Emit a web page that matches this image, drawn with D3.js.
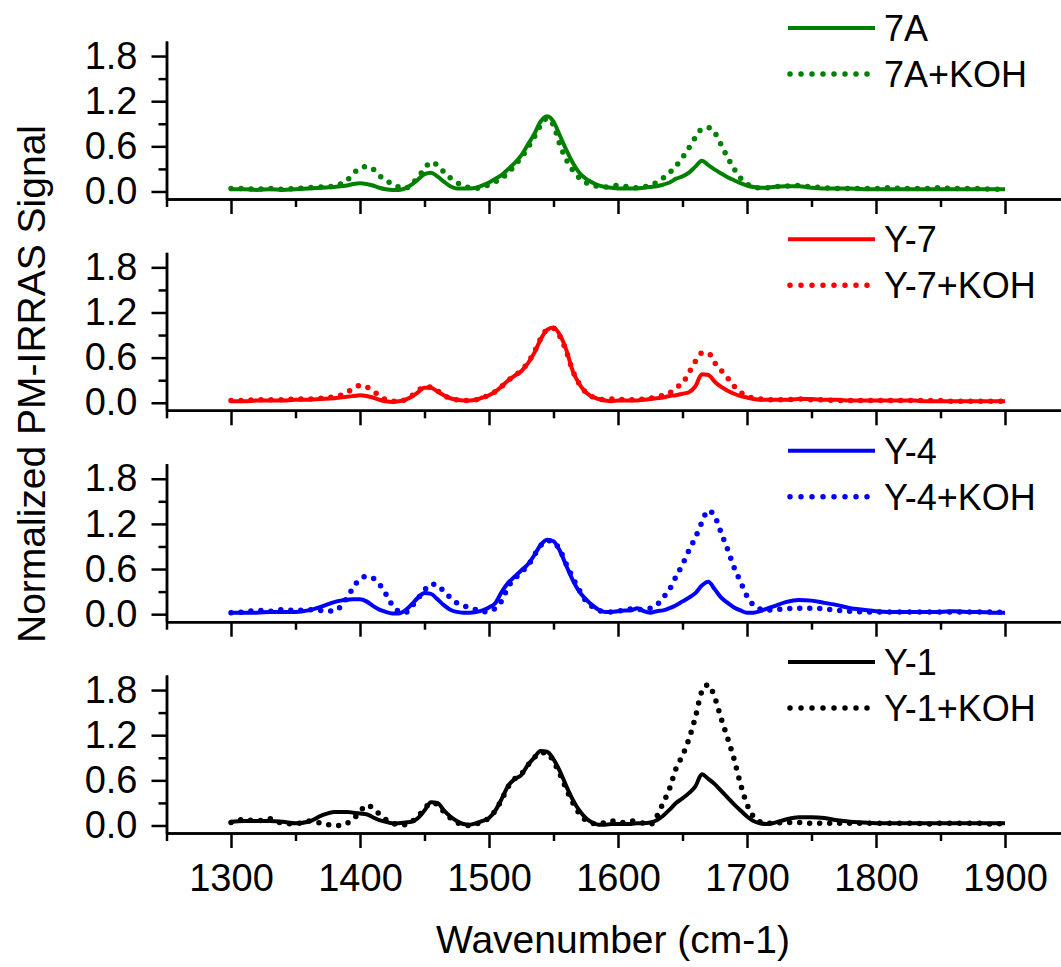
<!DOCTYPE html>
<html>
<head>
<meta charset="utf-8">
<script src="https://cdn.jsdelivr.net/npm/d3@7"></script>
<style>
  body { margin: 0; background: #fff; }
  text { font-family: Arial, "Liberation Sans", sans-serif; fill: #000; }
</style>
</head>
<body>
<svg id="chart" width="1061" height="967"></svg>
<script>
const wn = [1300,1310,1320,1330,1340,1350,1360,1370,1380,
  1385,1390,1395,1400,1405,1410,1415,1420,1425,1430,
  1435,1440,1445,1450,1455,1460,1465,1470,1475,1480,
  1485,1490,1495,1500,1505,1510,1515,1520,1525,1530,
  1535,1540,1545,1550,1555,1560,1565,1570,1575,1580,
  1585,1590,1595,1600,1605,1610,1615,1620,1625,1630,
  1635,1640,1645,1650,1655,1660,1665,1670,1675,1680,
  1685,1690,1695,1700,1705,1710,1715,1720,
  1730,1740,1750,1760,1770,1780,1790,1800,1810,1820,1830,1840,1850,1860,1870,1880,1890,1900];

const s7A = [0.03,0.03,0.02,0.03,0.02,0.03,0.04,0.05,0.06,
  0.07,0.08,0.10,0.11,0.10,0.08,0.05,0.03,0.02,0.02,
  0.04,0.09,0.16,0.23,0.25,0.20,0.13,0.07,0.04,0.04,
  0.04,0.05,0.08,0.12,0.17,0.22,0.30,0.38,0.48,0.62,
  0.76,0.93,1.00,0.93,0.74,0.55,0.38,0.25,0.17,0.12,
  0.08,0.06,0.05,0.04,0.04,0.04,0.04,0.05,0.06,0.07,
  0.09,0.12,0.17,0.20,0.25,0.33,0.41,0.35,0.29,0.24,
  0.19,0.15,0.11,0.08,0.06,0.05,0.05,0.06,
  0.07,0.07,0.05,0.04,0.04,0.04,0.03,0.03,0.03,0.03,0.03,0.03,0.03,0.03,0.03,0.03,0.03,0.03];
const s7AKOH = [0.04,0.04,0.03,0.04,0.03,0.04,0.05,0.06,0.07,
  0.10,0.15,0.24,0.31,0.33,0.30,0.21,0.15,0.10,0.06,
  0.04,0.10,0.19,0.30,0.39,0.35,0.26,0.18,0.12,0.08,
  0.05,0.04,0.06,0.09,0.13,0.18,0.25,0.35,0.45,0.58,
  0.72,0.88,0.97,0.88,0.62,0.42,0.28,0.18,0.12,0.08,
  0.07,0.06,0.07,0.08,0.07,0.06,0.05,0.06,0.08,0.12,
  0.18,0.25,0.34,0.45,0.58,0.72,0.83,0.85,0.78,0.62,
  0.45,0.30,0.18,0.10,0.06,0.05,0.05,0.06,
  0.07,0.08,0.06,0.05,0.04,0.04,0.04,0.04,0.05,0.04,0.04,0.04,0.05,0.04,0.04,0.04,0.03,0.03];

const sY7 = [0.02,0.02,0.03,0.03,0.03,0.04,0.04,0.05,0.06,
  0.07,0.08,0.09,0.10,0.09,0.07,0.04,0.02,0.01,0.02,
  0.04,0.08,0.14,0.20,0.20,0.15,0.10,0.06,0.04,0.03,
  0.03,0.04,0.07,0.10,0.15,0.22,0.30,0.36,0.42,0.52,
  0.66,0.84,0.97,1.00,0.90,0.70,0.42,0.25,0.14,0.08,
  0.05,0.03,0.02,0.03,0.03,0.03,0.03,0.04,0.05,0.06,
  0.07,0.09,0.10,0.12,0.14,0.22,0.38,0.37,0.28,0.21,
  0.16,0.12,0.09,0.07,0.05,0.04,0.04,0.04,
  0.04,0.05,0.05,0.04,0.04,0.03,0.03,0.03,0.03,0.03,0.03,0.02,0.02,0.02,0.02,0.02,0.02,0.02];
const sY7KOH = [0.03,0.03,0.04,0.04,0.04,0.05,0.05,0.06,0.08,
  0.10,0.14,0.19,0.23,0.21,0.16,0.09,0.04,0.02,0.02,
  0.04,0.09,0.16,0.21,0.21,0.16,0.10,0.06,0.04,0.03,
  0.03,0.04,0.07,0.10,0.15,0.22,0.30,0.36,0.43,0.53,
  0.67,0.85,0.97,0.99,0.88,0.68,0.42,0.25,0.14,0.08,
  0.05,0.04,0.05,0.05,0.04,0.04,0.04,0.05,0.06,0.08,
  0.10,0.13,0.20,0.26,0.40,0.55,0.66,0.66,0.53,0.43,
  0.33,0.22,0.14,0.09,0.06,0.05,0.04,0.04,
  0.04,0.05,0.04,0.04,0.03,0.03,0.03,0.03,0.03,0.03,0.03,0.03,0.03,0.02,0.02,0.02,0.02,0.02];

const sY4 = [0.02,0.02,0.02,0.03,0.03,0.03,0.05,0.10,0.16,
  0.18,0.19,0.20,0.20,0.17,0.11,0.06,0.03,0.01,0.01,
  0.05,0.13,0.22,0.28,0.27,0.20,0.12,0.06,0.03,0.02,
  0.02,0.03,0.05,0.09,0.15,0.30,0.42,0.50,0.58,0.66,
  0.78,0.92,0.99,0.97,0.84,0.64,0.45,0.30,0.20,0.12,
  0.06,0.03,0.03,0.04,0.05,0.05,0.08,0.04,0.02,0.04,
  0.05,0.08,0.12,0.17,0.22,0.28,0.38,0.43,0.33,0.22,
  0.15,0.09,0.05,0.02,0.02,0.04,0.07,0.10,
  0.16,0.19,0.18,0.15,0.12,0.08,0.06,0.04,0.03,0.03,0.03,0.03,0.03,0.04,0.03,0.03,0.02,0.02];
const sY4KOH = [0.02,0.03,0.05,0.04,0.06,0.05,0.06,0.05,0.04,
  0.10,0.22,0.36,0.47,0.50,0.48,0.40,0.27,0.12,0.04,
  0.02,0.10,0.21,0.32,0.40,0.39,0.30,0.22,0.15,0.11,
  0.09,0.06,0.03,0.04,0.08,0.18,0.37,0.47,0.56,0.64,
  0.78,0.91,0.98,0.96,0.85,0.66,0.48,0.32,0.18,0.10,
  0.05,0.03,0.03,0.04,0.06,0.07,0.06,0.07,0.08,0.12,
  0.22,0.33,0.50,0.66,0.85,1.02,1.22,1.38,1.30,1.08,
  0.86,0.62,0.43,0.24,0.12,0.07,0.05,0.06,
  0.07,0.08,0.08,0.07,0.05,0.04,0.03,0.03,0.03,0.03,0.03,0.03,0.03,0.03,0.03,0.03,0.03,0.02];

const sY1 = [0.05,0.06,0.06,0.06,0.05,0.03,0.05,0.13,0.18,
  0.18,0.18,0.17,0.16,0.15,0.11,0.07,0.05,0.03,0.03,
  0.04,0.05,0.10,0.20,0.31,0.30,0.20,0.12,0.06,0.02,
  0.01,0.03,0.06,0.10,0.20,0.36,0.53,0.62,0.67,0.80,
  0.90,0.99,0.98,0.88,0.72,0.52,0.34,0.20,0.10,0.04,
  0.01,0.01,0.02,0.02,0.02,0.02,0.03,0.03,0.04,0.07,
  0.13,0.21,0.30,0.36,0.43,0.52,0.68,0.62,0.55,0.46,
  0.37,0.28,0.20,0.12,0.06,0.03,0.02,0.03,
  0.08,0.11,0.11,0.10,0.07,0.05,0.04,0.03,0.03,0.03,0.03,0.03,0.03,0.03,0.03,0.03,0.03,0.03];
const sY1KOH = [0.04,0.08,0.06,0.09,0.03,0.02,0.06,0.03,0.00,
  0.00,0.03,0.09,0.18,0.27,0.23,0.15,0.08,0.03,0.01,
  0.01,0.05,0.12,0.22,0.30,0.28,0.18,0.10,0.04,0.01,
  0.00,0.02,0.05,0.10,0.20,0.35,0.52,0.62,0.68,0.80,
  0.90,0.97,0.96,0.85,0.68,0.48,0.30,0.16,0.07,0.03,
  0.02,0.04,0.06,0.05,0.04,0.06,0.05,0.03,0.01,0.12,
  0.30,0.49,0.76,0.93,1.15,1.44,1.78,1.87,1.70,1.42,
  1.16,0.88,0.55,0.28,0.12,0.05,0.03,0.03,
  0.04,0.04,0.03,0.03,0.03,0.03,0.03,0.03,0.03,0.03,0.03,0.02,0.03,0.03,0.03,0.03,0.02,0.03];

const labels = [["7A", "7A+KOH"], ["Y-7", "Y-7+KOH"], ["Y-4", "Y-4+KOH"], ["Y-1", "Y-1+KOH"]];
const colors = ["#008000", "#ff0000", "#0000ff", "#000000"];
const series = [[s7A, s7AKOH], [sY7, sY7KOH], [sY4, sY4KOH], [sY1, sY1KOH]];
const yTicks = [0, 0.6, 1.2, 1.8];
const yMinor = [0.3, 0.9, 1.5];
const xTicks = [1300, 1400, 1500, 1600, 1700, 1800, 1900];
const xMinor = [1250, 1350, 1450, 1550, 1650, 1750, 1850, 1950];

const svg = d3.select("#chart");
const panelTops = [41, 252.3, 463.7, 675];
const panelH = 158;
const axisW = 2.5;

const x = d3.scaleLinear().domain([1250, 1950]).range([166.5, 1069.5]);

panelTops.forEach((top, i) => {
  const y = d3.scaleLinear().domain([-0.1, 2.0]).range([top + panelH, top]);
  const g = svg.append("g");

  // y axis: major + minor ticks
  g.append("g")
    .attr("transform", `translate(${x(1250)},0)`)
    .call(d3.axisLeft(y).tickValues(yTicks).tickFormat(d3.format(".1f"))
      .tickSize(15).tickSizeOuter(0).tickPadding(14));
  g.append("g")
    .attr("transform", `translate(${x(1250)},0)`)
    .call(d3.axisLeft(y).tickValues(yMinor).tickFormat("").tickSize(8).tickSizeOuter(0));

  // x axis, labels only on the bottom panel
  g.append("g")
    .attr("transform", `translate(0,${top + panelH})`)
    .call(d3.axisBottom(x).tickValues(xTicks)
      .tickFormat(i === 3 ? d3.format("d") : "")
      .tickSize(15).tickSizeOuter(0).tickPadding(16));
  g.append("g")
    .attr("transform", `translate(0,${top + panelH})`)
    .call(d3.axisBottom(x).tickValues(xMinor).tickFormat("").tickSize(8).tickSizeOuter(0));

  g.selectAll(".domain, .tick line").attr("stroke", "#000").attr("stroke-width", axisW);
  g.selectAll(".tick text").style("font-size", "38px").attr("fill", "#000");

  const line = d3.line()
    .x((d, k) => x(wn[k]))
    .y(d => y(d))
    .curve(d3.curveMonotoneX);

  const [solid, dotted] = series[i];
  g.append("path")
    .datum(solid)
    .attr("d", line)
    .attr("fill", "none")
    .attr("stroke", colors[i])
    .attr("stroke-width", 4)
    .attr("stroke-linejoin", "round");
  g.append("path")
    .datum(dotted)
    .attr("d", line)
    .attr("fill", "none")
    .attr("stroke", colors[i])
    .attr("stroke-width", 5.5)
    .attr("stroke-linecap", "round")
    .attr("stroke-dasharray", "0,10");

  // legend
  const ly = top - 13;
  g.append("line")
    .attr("x1", 788).attr("x2", 875).attr("y1", ly).attr("y2", ly)
    .attr("stroke", colors[i]).attr("stroke-width", 4);
  g.append("line")
    .attr("x1", 790).attr("x2", 870).attr("y1", ly + 46).attr("y2", ly + 46)
    .attr("stroke", colors[i]).attr("stroke-width", 5.5)
    .attr("stroke-linecap", "round").attr("stroke-dasharray", "0,11");
  g.append("text")
    .attr("x", 884).attr("y", ly + 13)
    .style("font-size", "36px")
    .text(labels[i][0]);
  g.append("text")
    .attr("x", 884).attr("y", ly + 59)
    .style("font-size", "36px")
    .text(labels[i][1]);
});

svg.append("text")
  .attr("x", 613).attr("y", 953)
  .attr("text-anchor", "middle")
  .style("font-size", "39px")
  .text("Wavenumber (cm-1)");

svg.append("text")
  .attr("transform", "translate(45,384) rotate(-90)")
  .attr("text-anchor", "middle")
  .style("font-size", "39px")
  .text("Normalized PM-IRRAS Signal");
</script>
</body>
</html>
